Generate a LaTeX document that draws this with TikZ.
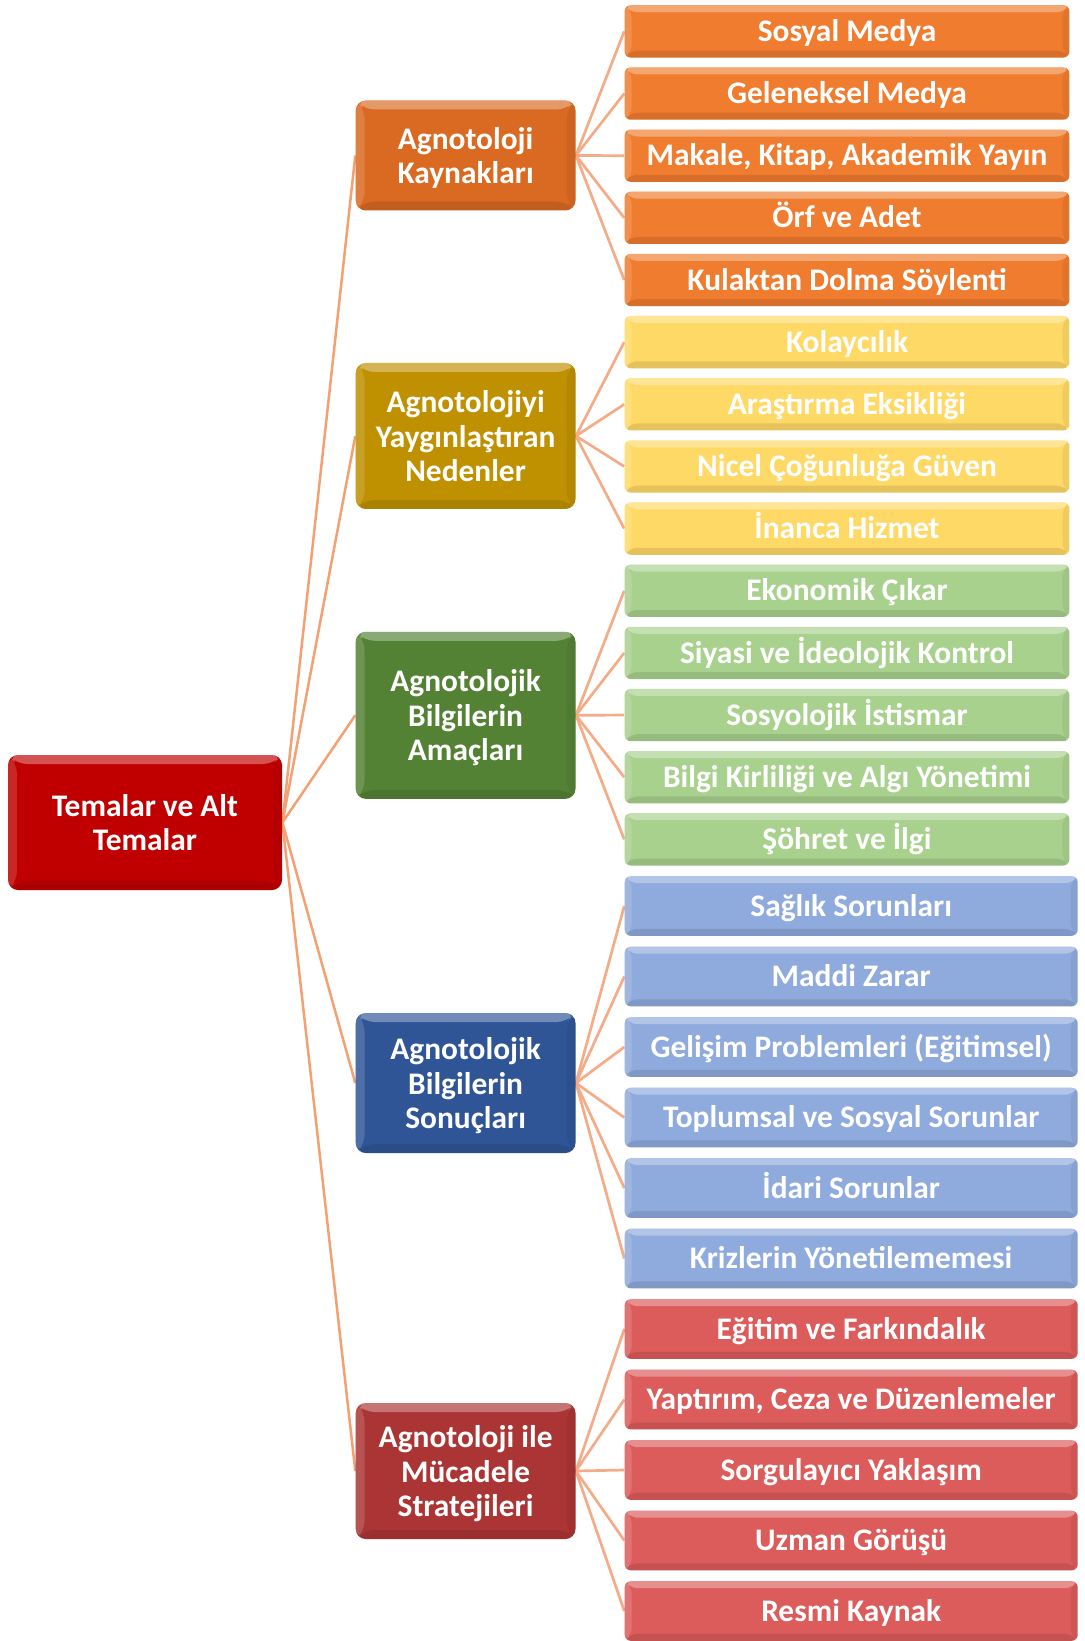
\documentclass[tikz,border=0pt]{standalone}
\usepackage{fontspec}
\setmainfont{Carlito}
\usetikzlibrary{backgrounds}
\definecolor{rootC}{HTML}{C00000}
\definecolor{orA}{HTML}{DA6A22}
\definecolor{orB}{HTML}{F07C2F}
\definecolor{yeA}{HTML}{BF9000}
\definecolor{yeB}{HTML}{FFD966}
\definecolor{grA}{HTML}{548235}
\definecolor{grB}{HTML}{A9D18E}
\definecolor{blA}{HTML}{2F5597}
\definecolor{blB}{HTML}{8FAADC}
\definecolor{reA}{HTML}{AB3535}
\definecolor{reB}{HTML}{DC5B5B}
\definecolor{lineA}{HTML}{F3A073}
\definecolor{lineB}{HTML}{F4AC88}
\begin{document}
\begin{tikzpicture}[x=0.5pt,y=-0.5pt,
  bevel/.style={path picture={
    \fill[white,opacity=.32] (path picture bounding box.north west) -- (path picture bounding box.north east)
      -- ([shift={(-#1,-#1)}]path picture bounding box.north east) -- ([shift={(#1,-#1)}]path picture bounding box.north west) -- cycle;
    \fill[white,opacity=.15] (path picture bounding box.north west) -- ([shift={(#1,-#1)}]path picture bounding box.north west)
      -- ([shift={(#1,#1)}]path picture bounding box.south west) -- (path picture bounding box.south west) -- cycle;
    \fill[black,opacity=.10] (path picture bounding box.south west) -- (path picture bounding box.south east)
      -- ([shift={(-#1,#1)}]path picture bounding box.south east) -- ([shift={(#1,#1)}]path picture bounding box.south west) -- cycle;
    \fill[black,opacity=.06] (path picture bounding box.north east) -- ([shift={(-#1,-#1)}]path picture bounding box.north east)
      -- ([shift={(-#1,#1)}]path picture bounding box.south east) -- (path picture bounding box.south east) -- cycle;
  }},
  txt/.style={text=white, font=\bfseries\fontsize{15.7}{17.25}\selectfont, align=center, inner sep=0pt},
  lvtwo/.style={txt, rounded corners=3pt, minimum width=222.4pt, minimum height=26.15pt, text height=10.1pt, text depth=0pt, bevel=3.5pt},
  lvtwob/.style={lvtwo, minimum width=226.5pt, minimum height=29.8pt},
  lvone/.style={txt, rounded corners=5pt, minimum width=109.9pt, text depth=0pt, bevel=4.5pt},
  rootbox/.style={txt, rounded corners=5pt, minimum width=137pt, minimum height=67.5pt, text depth=0pt, bevel=4.5pt},
  rootline/.style={draw=lineA, line width=1.25pt},
  childline/.style={draw=lineB, line width=1.35pt}
]
\useasboundingbox (0,0) rectangle (1084,1641);

% root
\node[rootbox, fill=rootC] (root) at (145,822.5) {Temalar ve Alt\\Temalar};

% level one
\node[lvone, fill=orA, minimum height=55pt] (k) at (465.6,155.5) {Agnotoloji\\Kaynakları};
\node[lvone, fill=yeA, minimum height=73pt] (n) at (465.6,436) {Agnotolojiyi\\Yaygınlaştıran\\Nedenler};
\node[lvone, fill=grA, minimum height=83.5pt] (a) at (465.6,715.3) {Agnotolojik\\Bilgilerin\\Amaçları};
\node[lvone, fill=blA, minimum height=70pt] (s) at (465.6,1083) {Agnotolojik\\Bilgilerin\\Sonuçları};
\node[lvone, fill=reA, minimum height=68pt] (m) at (465.6,1471) {Agnotoloji ile\\Mücadele\\Stratejileri};

% level two: orange
\node[lvtwo, fill=orB] (k1) at (847,31.4) {Sosyal Medya};
\node[lvtwo, fill=orB] (k2) at (847,93.55) {Geleneksel Medya};
\node[lvtwo, fill=orB] (k3) at (847,155.7) {Makale, Kitap, Akademik Yayın};
\node[lvtwo, fill=orB] (k4) at (847,217.85) {Örf ve Adet};
\node[lvtwo, fill=orB] (k5) at (847,280) {Kulaktan Dolma Söylenti};
% yellow
\node[lvtwo, fill=yeB] (n1) at (847,342.15) {Kolaycılık};
\node[lvtwo, fill=yeB] (n2) at (847,404.3) {Araştırma Eksikliği};
\node[lvtwo, fill=yeB] (n3) at (847,466.45) {Nicel Çoğunluğa Güven};
\node[lvtwo, fill=yeB] (n4) at (847,528.6) {İnanca Hizmet};
% green
\node[lvtwo, fill=grB] (a1) at (847,590.75) {Ekonomik Çıkar};
\node[lvtwo, fill=grB] (a2) at (847,652.9) {Siyasi ve İdeolojik Kontrol};
\node[lvtwo, fill=grB] (a3) at (847,715.05) {Sosyolojik İstismar};
\node[lvtwo, fill=grB] (a4) at (847,777.2) {Bilgi Kirliliği ve Algı Yönetimi};
\node[lvtwo, fill=grB] (a5) at (847,839.35) {Şöhret ve İlgi};
% blue
\node[lvtwob, fill=blB] (s1) at (851.2,906) {Sağlık Sorunları};
\node[lvtwob, fill=blB] (s2) at (851.2,976.5) {Maddi Zarar};
\node[lvtwob, fill=blB] (s3) at (851.2,1047) {Gelişim Problemleri (Eğitimsel)};
\node[lvtwob, fill=blB] (s4) at (851.2,1117.5) {Toplumsal ve Sosyal Sorunlar};
\node[lvtwob, fill=blB] (s5) at (851.2,1188) {İdari Sorunlar};
\node[lvtwob, fill=blB] (s6) at (851.2,1258.5) {Krizlerin Yönetilememesi};
% red
\node[lvtwob, fill=reB] (m1) at (851.2,1329) {Eğitim ve Farkındalık};
\node[lvtwob, fill=reB] (m2) at (851.2,1399.5) {Yaptırım, Ceza ve Düzenlemeler};
\node[lvtwob, fill=reB] (m3) at (851.2,1470) {Sorgulayıcı Yaklaşım};
\node[lvtwob, fill=reB] (m4) at (851.2,1540.5) {Uzman Görüşü};
\node[lvtwob, fill=reB] (m5) at (851.2,1611) {Resmi Kaynak};

\begin{scope}[on background layer]
\foreach \t in {k,n,a,s,m} \draw[rootline] (root.east) -- (\t.west);
\foreach \c in {k1,k2,k3,k4,k5} \draw[childline] (k.east) -- (\c.west);
\foreach \c in {n1,n2,n3,n4} \draw[childline] (n.east) -- (\c.west);
\foreach \c in {a1,a2,a3,a4,a5} \draw[childline] (a.east) -- (\c.west);
\foreach \c in {s1,s2,s3,s4,s5,s6} \draw[childline] (s.east) -- (\c.west);
\foreach \c in {m1,m2,m3,m4,m5} \draw[childline] (m.east) -- (\c.west);
\end{scope}
\end{tikzpicture}
\end{document}
